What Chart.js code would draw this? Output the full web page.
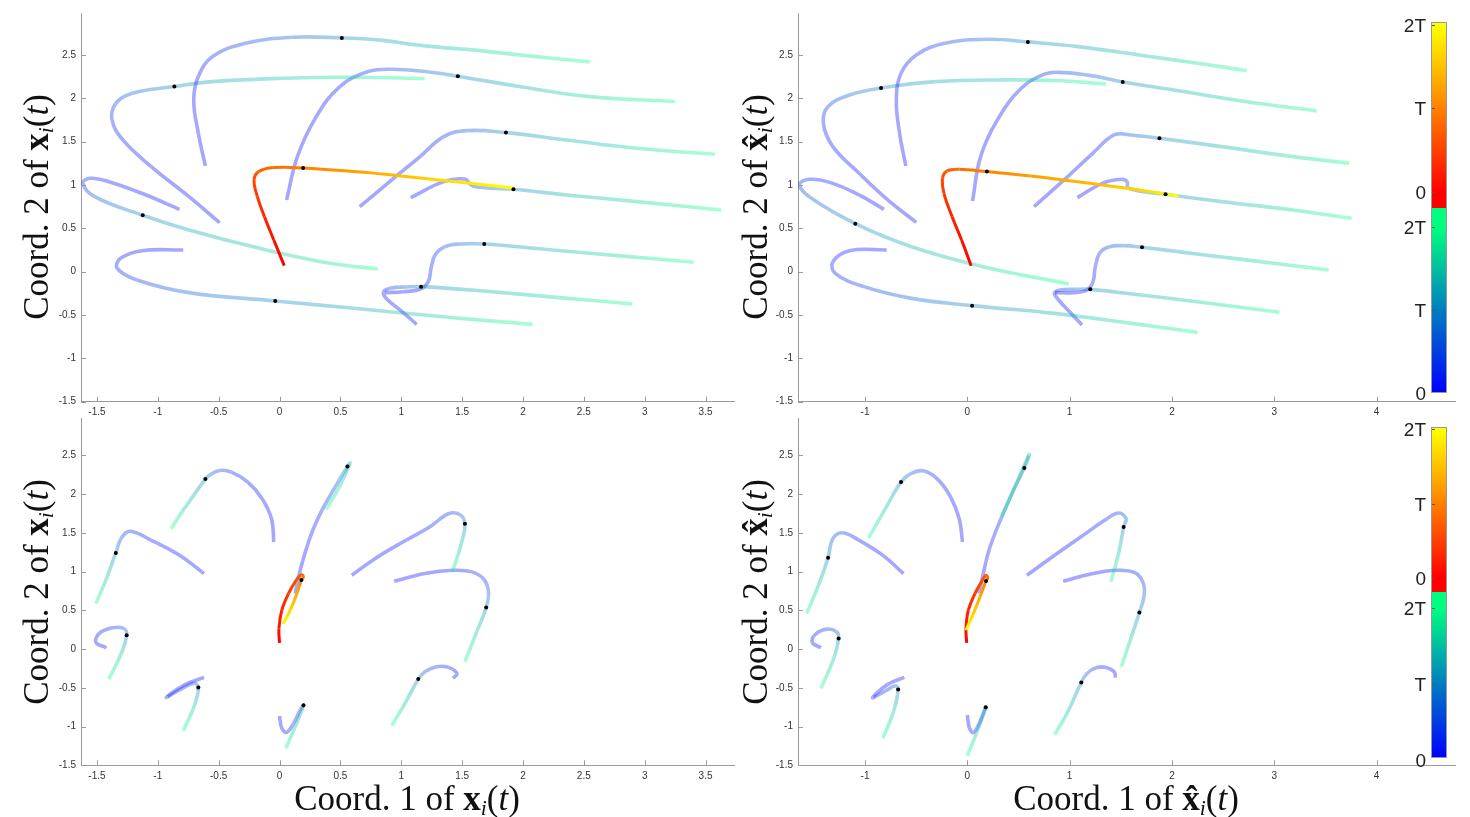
<!DOCTYPE html>
<html lang="en">
<head>
<meta charset="UTF-8" />
<title>Agent trajectories</title>
<script src="https://cdn.jsdelivr.net/npm/chart.js"></script>
<style>
  html, body { margin: 0; padding: 0; background: #fff; }
  #fig { position: relative; width: 1470px; height: 817px; overflow: hidden; }
  #fig canvas { position: absolute; left: 0; top: 0; }
  .ylab, .xlab { position: absolute; font-family: "Liberation Serif", "DejaVu Serif", serif; font-size: 35px; color: #111; white-space: nowrap; line-height: 1; }
  .ylab { transform: translate(-50%, -50%) rotate(-90deg); }
  .xlab { transform: translate(-50%, -50%); }
  .ylab b, .xlab b { font-weight: bold; }
  .ylab sub, .xlab sub { font-style: italic; font-size: 0.62em; vertical-align: -0.25em; line-height: 0; }
  .cbar { position: absolute; left: 1431px; width: 16px; box-sizing: border-box; border: 1px solid #999; }
  .cbtick { position: absolute; left: 1432px; width: 3px; height: 1px; background: #555; }
  .cblab { position: absolute; font-family: "Liberation Sans", Arial, sans-serif; font-size: 19px; color: #222; transform: translate(-100%, -50%); line-height: 1; }
</style>
</head>
<body>
<div id="fig">
  <canvas id="cTL" width="1470" height="817"></canvas>
  <canvas id="cTR" width="1470" height="817"></canvas>
  <canvas id="cBL" width="1470" height="817"></canvas>
  <canvas id="cBR" width="1470" height="817"></canvas>

  <div class="ylab" style="left:36px;top:207px">Coord. 2 of <b>x</b><sub>i</sub>(<i>t</i>)</div>
  <div class="ylab" style="left:755px;top:207px">Coord. 2 of <b>x&#770;</b><sub>i</sub>(<i>t</i>)</div>
  <div class="ylab" style="left:36px;top:592px">Coord. 2 of <b>x</b><sub>i</sub>(<i>t</i>)</div>
  <div class="ylab" style="left:755px;top:592px">Coord. 2 of <b>x&#770;</b><sub>i</sub>(<i>t</i>)</div>
  <div class="xlab" style="left:407px;top:798px">Coord. 1 of <b>x</b><sub>i</sub>(<i>t</i>)</div>
  <div class="xlab" style="left:1126px;top:798px">Coord. 1 of <b>x&#770;</b><sub>i</sub>(<i>t</i>)</div>
</div>

<script>
// ---- ticks / ranges ----
const xTicksLeft = [-1.5, -1, -0.5, 0, 0.5, 1, 1.5, 2, 2.5, 3, 3.5];
const xTicksRight = [-1, 0, 1, 2, 3, 4];
const yTicks = [-1.5, -1, -0.5, 0, 0.5, 1, 1.5, 2, 2.5];
const xRangeLeft = [-1.631, 3.734];
const xRangeRight = [-1.655, 4.767];
const yRange = [-1.5, 2.98];
const cbarLabels = ['0', 'T', '2T'];

// ---- top left: x_i(t), first run ----
const pathsTL = [
  [[-0.609,1.219],[-0.667,1.596],[-0.705,1.981],[-0.667,2.25],[-0.55,2.481],[-0.279,2.635],[0.109,2.704],[0.512,2.696],[0.806,2.673],[1.194,2.604],[1.581,2.558],[1.969,2.5],[2.55,2.419]],
  [[-0.492,0.565],[-0.744,0.865],[-1.054,1.212],[-1.287,1.519],[-1.376,1.75],[-1.345,1.942],[-1.209,2.058],[-0.864,2.135],[-0.55,2.192],[0.031,2.231],[0.612,2.242],[1.194,2.227]],
  [[0.058,0.827],[0.147,1.327],[0.302,1.788],[0.496,2.135],[0.729,2.308],[0.922,2.335],[1.194,2.308],[1.465,2.254],[1.969,2.135],[2.55,2.019],[3.248,1.962]],
  [[0.659,0.75],[0.922,1.058],[1.155,1.327],[1.349,1.558],[1.543,1.627],[1.86,1.604],[2.357,1.519],[2.938,1.423],[3.578,1.354]],
  [[1.078,0.854],[1.349,1.038],[1.523,1.069],[1.574,1.0],[1.64,0.973],[1.922,0.95],[2.357,0.885],[2.938,0.808],[3.628,0.712]],
  [[-0.822,0.719],[-1.132,0.904],[-1.403,1.038],[-1.558,1.077],[-1.616,1.019],[-1.519,0.865],[-1.124,0.65],[-0.744,0.481],[-0.163,0.269],[0.419,0.096],[0.806,0.031]],
  [[-0.791,0.25],[-1.132,0.242],[-1.306,0.154],[-1.333,0.038],[-1.171,-0.096],[-0.744,-0.242],[-0.035,-0.338],[0.612,-0.423],[1.194,-0.5],[1.581,-0.55],[2.078,-0.608]],
  [[1.127,-0.607],[0.99,-0.442],[0.881,-0.315],[0.853,-0.238],[0.908,-0.192],[1.045,-0.177],[1.163,-0.173],[1.6,-0.215],[2.3,-0.3],[2.899,-0.373]],
  [[0.867,-0.242],[1.017,-0.231],[1.154,-0.203],[1.223,-0.115],[1.245,0.039],[1.278,0.192],[1.36,0.288],[1.483,0.319],[1.682,0.319],[2.2,0.255],[2.8,0.182],[3.403,0.108]]
];
const marksTL = [7, 7, 7, 5, 5, 6, 6, 6, 8];
const focusTL = [[0.039,0.069],[-0.047,0.365],[-0.124,0.635],[-0.182,0.865],[-0.209,1.058],[-0.171,1.154],[-0.047,1.2],[0.194,1.196],[0.612,1.154],[1.0,1.104],[1.388,1.046],[1.93,0.962]];
const focusMarkTL = 7;

// ---- top right: x^_i(t), first run ----
const pathsTR = [
  [[-0.601,1.219],[-0.662,1.596],[-0.694,1.981],[-0.648,2.288],[-0.499,2.5],[-0.219,2.635],[0.2,2.681],[0.592,2.65],[1.086,2.596],[1.785,2.481],[2.251,2.404],[2.731,2.319]],
  [[-0.499,0.569],[-0.778,0.827],[-1.058,1.135],[-1.314,1.442],[-1.407,1.712],[-1.361,1.904],[-1.151,2.038],[-0.843,2.119],[-0.312,2.192],[0.387,2.212],[0.853,2.204],[1.356,2.165]],
  [[0.051,0.815],[0.13,1.327],[0.294,1.75],[0.527,2.115],[0.76,2.281],[0.946,2.296],[1.226,2.258],[1.519,2.188],[2.018,2.096],[2.717,1.962],[3.416,1.854]],
  [[0.652,0.75],[0.946,1.058],[1.226,1.365],[1.435,1.577],[1.598,1.577],[1.878,1.538],[2.484,1.442],[3.183,1.327],[3.733,1.25]],
  [[1.076,0.854],[1.319,1.019],[1.505,1.065],[1.561,1.038],[1.575,0.962],[1.938,0.892],[2.484,0.808],[3.183,0.712],[3.756,0.615]],
  [[-0.815,0.719],[-1.058,0.885],[-1.337,1.027],[-1.547,1.065],[-1.64,1.0],[-1.524,0.846],[-1.095,0.554],[-0.545,0.288],[0.154,0.058],[0.993,-0.142]],
  [[-0.788,0.25],[-1.151,0.242],[-1.314,0.115],[-1.291,-0.019],[-1.011,-0.173],[-0.545,-0.308],[0.047,-0.392],[0.853,-0.481],[1.552,-0.588],[2.251,-0.7]],
  [[1.121,-0.615],[1.004,-0.469],[0.893,-0.327],[0.851,-0.25],[0.906,-0.212],[1.069,-0.204],[1.202,-0.204],[1.7,-0.27],[2.4,-0.37],[3.052,-0.469]],
  [[0.857,-0.242],[1.039,-0.242],[1.17,-0.212],[1.229,-0.115],[1.251,0.058],[1.293,0.212],[1.381,0.285],[1.528,0.3],[1.708,0.281],[2.3,0.196],[2.9,0.11],[3.532,0.019]]
];
const marksTR = [7, 7, 7, 5, 5, 6, 6, 6, 8];
const focusTR = [[0.037,0.069],[-0.056,0.365],[-0.149,0.635],[-0.228,0.904],[-0.242,1.077],[-0.196,1.162],[-0.079,1.181],[0.191,1.154],[0.62,1.104],[1.319,1.0],[1.785,0.923],[2.064,0.873]];
const focusMarkTR = 7;

// ---- bottom left: x_i(t), second run ----
const pathsBL = [
  [[-0.047,1.383],[-0.066,1.684],[-0.143,1.942],[-0.26,2.156],[-0.395,2.285],[-0.492,2.307],[-0.57,2.251],[-0.609,2.195],[-0.705,1.985],[-0.802,1.77],[-0.891,1.555]],
  [[0.129,0.718],[0.17,1.018],[0.252,1.447],[0.348,1.791],[0.457,2.092],[0.558,2.358],[0.58,2.401],[0.498,2.113],[0.383,1.8]],
  [[0.593,0.954],[0.806,1.19],[1.039,1.405],[1.233,1.576],[1.388,1.748],[1.484,1.735],[1.523,1.619],[1.504,1.426],[1.465,1.211],[1.419,0.997]],
  [[-0.62,0.975],[-0.822,1.211],[-1.054,1.405],[-1.229,1.521],[-1.3,1.43],[-1.345,1.241],[-1.422,0.911],[-1.508,0.588]],
  [[0.942,0.876],[1.194,0.975],[1.426,1.018],[1.581,0.997],[1.678,0.902],[1.717,0.739],[1.698,0.537],[1.62,0.223],[1.523,-0.163]],
  [[-1.422,0.017],[-1.508,0.086],[-1.481,0.202],[-1.372,0.275],[-1.279,0.266],[-1.256,0.18],[-1.306,-0.077],[-1.403,-0.387]],
  [[-0.62,-0.365],[-0.783,-0.464],[-0.93,-0.623],[-0.822,-0.528],[-0.705,-0.442],[-0.667,-0.494],[-0.698,-0.722],[-0.791,-1.057]],
  [[0.0,-0.863],[0.019,-1.022],[0.06,-1.074],[0.115,-0.958],[0.17,-0.786],[0.197,-0.726],[0.129,-1.001],[0.052,-1.28]],
  [[1.426,-0.378],[1.457,-0.314],[1.388,-0.236],[1.291,-0.228],[1.194,-0.292],[1.14,-0.387],[1.039,-0.679],[0.922,-0.988]]
];
const marksBL = [7, 5, 6, 5, 6, 5, 5, 5, 5];
const focusBL = [[0.0,0.081],[-0.005,0.266],[0.019,0.503],[0.074,0.718],[0.137,0.889],[0.178,0.958],[0.197,0.932],[0.18,0.893],[0.143,0.718],[0.088,0.503],[0.028,0.322]];
const focusMarkBL = 7;

// ---- bottom right: x^_i(t), second run ----
const pathsBR = [
  [[-0.047,1.383],[-0.079,1.684],[-0.163,1.963],[-0.289,2.191],[-0.429,2.302],[-0.555,2.264],[-0.648,2.156],[-0.801,1.813],[-0.965,1.435]],
  [[0.117,0.718],[0.156,0.976],[0.222,1.318],[0.336,1.705],[0.45,2.049],[0.557,2.337],[0.606,2.513],[0.499,2.2],[0.336,1.705]],
  [[0.582,0.954],[0.853,1.211],[1.132,1.469],[1.365,1.684],[1.482,1.757],[1.552,1.684],[1.528,1.576],[1.482,1.254],[1.403,0.868]],
  [[-0.624,0.975],[-0.825,1.211],[-1.058,1.405],[-1.221,1.503],[-1.314,1.426],[-1.361,1.181],[-1.454,0.825],[-1.57,0.46]],
  [[0.937,0.876],[1.226,0.975],[1.459,1.018],[1.636,0.988],[1.715,0.868],[1.729,0.696],[1.682,0.473],[1.598,0.137],[1.505,-0.228]],
  [[-1.431,0.017],[-1.514,0.086],[-1.486,0.189],[-1.375,0.258],[-1.277,0.223],[-1.258,0.137],[-1.305,-0.12],[-1.431,-0.507]],
  [[-0.615,-0.365],[-0.778,-0.455],[-0.927,-0.627],[-0.801,-0.541],[-0.704,-0.473],[-0.676,-0.52],[-0.722,-0.808],[-0.825,-1.151]],
  [[0.0,-0.851],[0.02,-1.014],[0.059,-1.078],[0.117,-0.958],[0.163,-0.808],[0.18,-0.752],[0.108,-1.022],[0.0,-1.379]],
  [[1.449,-0.369],[1.435,-0.292],[1.356,-0.236],[1.258,-0.241],[1.17,-0.314],[1.114,-0.43],[0.983,-0.808],[0.853,-1.108]]
];
const marksBR = [6, 5, 6, 5, 6, 5, 5, 5, 5];
const focusBR = [[-0.006,0.081],[-0.013,0.266],[0.01,0.503],[0.075,0.718],[0.147,0.889],[0.183,0.954],[0.199,0.919],[0.183,0.88],[0.124,0.674],[0.053,0.438],[-0.013,0.245]];
const focusMarkBR = 7;

// ---- colour maps (MATLAB winter / autumn) ----
const winter = f => `rgba(0,${Math.round(255 * f)},${Math.round(255 * (1 - f / 2))},0.35)`;
const autumn = f => `rgb(255,${Math.round(255 * f)},0)`;

// colour position of each sample: 0..T up to the mark, T..2T after it.
// the others stay near the start colour for most of the first half
function timeFractions(n, mark, ease) {
  const out = [];
  for (let j = 0; j < n; j++) {
    out.push(j <= mark ? 0.5 * Math.pow(j / mark, ease) : 0.5 + 0.5 * (j - mark) / (n - 1 - mark));
  }
  return out;
}

function lineSet(pts, mark, cmap, width, ease) {
  const fr = timeFractions(pts.length, mark, ease);
  return {
    data: pts.map(([x, y]) => ({ x, y })),
    showLine: true,
    pointRadius: 0,
    pointHoverRadius: 0,
    pointHitRadius: 0,
    borderWidth: width,
    borderColor: cmap(0),
    borderCapStyle: 'butt',
    borderJoinStyle: 'round',
    tension: 0.4,
    fill: false,
    segment: {
      borderColor: c => {
        const g = c.chart.ctx.createLinearGradient(c.p0.x, c.p0.y, c.p1.x, c.p1.y);
        g.addColorStop(0, cmap(fr[c.p0DataIndex]));
        g.addColorStop(1, cmap(fr[c.p1DataIndex]));
        return g;
      }
    }
  };
}

// MATLAB-style tick marks pointing into the axes
const insideTicks = {
  id: 'insideTicks',
  afterDraw(chart) {
    const { ctx, chartArea: a, scales: { x, y } } = chart;
    ctx.save();
    ctx.strokeStyle = '#9a9a9a';
    ctx.lineWidth = 1;
    ctx.beginPath();
    x.ticks.forEach(t => {
      const px = Math.round(x.getPixelForValue(t.value)) + 0.5;
      ctx.moveTo(px, a.bottom);
      ctx.lineTo(px, a.bottom - 5);
    });
    y.ticks.forEach(t => {
      const py = Math.round(y.getPixelForValue(t.value)) + 0.5;
      ctx.moveTo(a.left, py);
      ctx.lineTo(a.left + 5, py);
    });
    ctx.stroke();
    ctx.restore();
  }
};

const tickFont = { family: '"Liberation Sans Narrow", "Liberation Sans", Arial, sans-serif', size: 10 };

function makePanel(canvasId, paths, marks, focus, focusMark, xTicks, xRange, pad) {
  const dots = paths.map((p, k) => p[marks[k]]).concat([focus[focusMark]]);
  const datasets = [
    { data: dots.map(([x, y]) => ({ x, y })), showLine: false, pointRadius: 2,
      pointBackgroundColor: '#000', pointBorderWidth: 0, pointHoverRadius: 2 },
    lineSet(focus, focusMark, autumn, 3, 1)
  ];
  paths.forEach((p, k) => datasets.push(lineSet(p, marks[k], winter, 3.6, 2.5)));

  new Chart(document.getElementById(canvasId), {
    type: 'scatter',
    data: { datasets },
    options: {
      responsive: false,
      animation: false,
      devicePixelRatio: 1,
      events: [],
      layout: { padding: pad },
      plugins: { legend: { display: false }, tooltip: { enabled: false } },
      scales: {
        x: {
          type: 'linear', min: xRange[0], max: xRange[1],
          grid: { display: false, drawTicks: false },
          border: { display: true, color: '#9a9a9a', width: 1 },
          ticks: { padding: 5, color: '#333', font: tickFont, maxRotation: 0, autoSkip: false, callback: v => String(v) },
          afterBuildTicks: s => { s.ticks = xTicks.map(v => ({ value: v })); },
          afterFit: s => { s.height = 16; }
        },
        y: {
          type: 'linear', min: yRange[0], max: yRange[1],
          grid: { display: false, drawTicks: false },
          border: { display: true, color: '#9a9a9a', width: 1 },
          ticks: { padding: 5, color: '#333', font: tickFont, autoSkip: false, callback: v => String(v) },
          afterBuildTicks: s => { s.ticks = yTicks.map(v => ({ value: v })); },
          afterFit: s => { s.width = 40; }
        }
      }
    },
    plugins: [insideTicks]
  });
}

makePanel('cTL', pathsTL, marksTL, focusTL, focusMarkTL, xTicksLeft, xRangeLeft, { left: 41, right: 736, top: 13.3, bottom: 399.3 });
makePanel('cTR', pathsTR, marksTR, focusTR, focusMarkTR, xTicksRight, xRangeRight, { left: 758, right: 15, top: 13.3, bottom: 399.3 });
makePanel('cBL', pathsBL, marksBL, focusBL, focusMarkBL, xTicksLeft, xRangeLeft, { left: 41, right: 736, top: 418.3, bottom: 35.7 });
makePanel('cBR', pathsBR, marksBR, focusBR, focusMarkBR, xTicksRight, xRangeRight, { left: 758, right: 15, top: 418.3, bottom: 35.7 });

// ---- colour bars (upper: autumn for the focus agent, lower: winter for the others) ----
const cbarGeom = [
  { top: 21.7, split: 207.7, bottom: 393, up: [191.7, 25], lo: [393, 226.7] },
  { top: 426.7, split: 592.3, bottom: 758.3, up: [578, 429], lo: [760, 608] }
];
const fig = document.getElementById('fig');
function addEl(cls, style, text) {
  const d = document.createElement('div');
  d.className = cls;
  Object.assign(d.style, style);
  if (text !== undefined) d.textContent = text;
  fig.appendChild(d);
  return d;
}
cbarGeom.forEach(g => {
  const upH = g.split - g.top, loH = g.bottom - g.split;
  const u0 = Math.max(0, (g.split - g.up[0]) / upH * 100), u2 = Math.min(100, (g.split - g.up[1]) / upH * 100);
  const l0 = Math.max(0, (g.bottom - g.lo[0]) / loH * 100), l2 = Math.min(100, (g.bottom - g.lo[1]) / loH * 100);
  addEl('cbar', { top: g.top + 'px', height: upH + 'px', borderBottom: 'none',
    background: `linear-gradient(to top, ${autumn(0)} 0%, ${autumn(0)} ${u0}%, ${autumn(1)} ${u2}%, ${autumn(1)} 100%)` });
  addEl('cbar', { top: g.split + 'px', height: loH + 'px', borderTop: 'none',
    background: `linear-gradient(to top, rgb(0,0,255) 0%, rgb(0,0,255) ${l0}%, rgb(0,255,128) ${l2}%, rgb(0,255,128) 100%)` });
  [g.up, g.lo].forEach(r => {
    cbarLabels.forEach((lab, k) => {
      const py = r[0] + (r[1] - r[0]) * k / 2;
      addEl('cblab', { left: '1426px', top: py + 'px' }, lab);
      if (py > g.top + 1 && py < g.bottom - 1) addEl('cbtick', { top: Math.round(py) + 'px' });
    });
  });
});
</script>
</body>
</html>
